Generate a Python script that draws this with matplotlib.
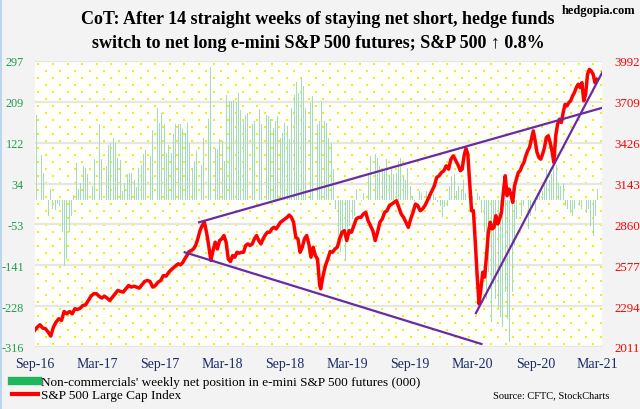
import numpy as np
import pandas as pd
import matplotlib
matplotlib.use('Agg')
import matplotlib.pyplot as plt
from matplotlib.lines import Line2D

plt.rcParams['font.family'] = ['Liberation Serif', 'DejaVu Serif']

# weekly net position of non-commercials, e-mini S&P 500 futures (000), Sep-16 .. Mar-21
net = [182, 93, 95, 58, 43, -35, 22, -21, -22, -10, -14, -70, -142, -127, -70, -35, 9, 79, 22, 35,
       72, 68, 54, 58, 29, 86, 118, 161, 86, 157, 72, 118, 122, 132, 122, 90, 85, 19, 36, 54,
       58, 58, 43, 26, 68, 75, 97, 107, 93, 93, 150, 140, 197, 164, 186, 161, 100, 118, 100, 140,
       161, 161, 161, 152, 143, 164, 122, 68, 83, 104, 172, 75, 132, 168, 172, 285, 122, 111, 108, 129,
       125, 83, 225, 211, 211, 214, 209, 229, 193, 168, 182, 186, 132, 161, 168, 186, 194, 161, 168, 182,
       179, 172, 154, 168, 179, 132, 143, 164, 157, 129, 197, 225, 253, 229, 261, 243, 197, 200, 207, 221,
       214, 161, 168, 211, 168, 164, 132, 122, 65, -21, -99, -113, -92, -131, -92, -56, -42, -35, 22, 8,
       -3, 15, 1, 58, 93, 86, 97, 90, 72, 65, 61, 86, 51, 65, 54, 58, 83, 90, 51, 43,
       68, 29, 8, -6, 8, 19, 15, 54, 19, 11, 15, 11, 6, -6, -14, -38, -17, -14, 29, 51,
       54, 19, 29, 19, 43, 15, 33, -6, 8, 1, 15, 8, -28, -70, -213, -156, -263, -180, -213, -234,
       -252, -273, -199, -256, -305, -199, -99, -42, -35, -35, -14, -28, -63, -35, -67, -24, 15, 19, 19, 43,
       65, 43, 54, 72, 75, 36, 29, 36, -14, -21, -28, -35, -21, -28, -14, -21, -14, -28, -21, -56,
       -78, -35, 22]
net_start, net_end = '2016-09-06', '2021-03-02'

# S&P 500, read in four stretches
spx_a = [2126, 2149, 2165, 2142, 2138, 2115, 2087, 2149, 2184, 2207, 2195, 2257, 2241, 2257, 2241, 2276,
         2271, 2280, 2299, 2303, 2333, 2363, 2380, 2380, 2363, 2350, 2363, 2350, 2333, 2356, 2380, 2403,
         2396, 2391, 2414, 2437, 2426, 2432, 2426, 2419, 2442, 2465, 2472, 2465, 2426, 2437, 2460, 2472,
         2506, 2502, 2529, 2548, 2564, 2580]
spx_b = [2587, 2580, 2594, 2621, 2644, 2672, 2679, 2690, 2714, 2760, 2817, 2852, 2875, 2806, 2714, 2610,
         2679, 2737, 2690, 2748, 2760, 2783, 2737, 2621, 2603, 2644, 2633, 2667, 2661, 2667, 2667, 2714,
         2725, 2714, 2725, 2760, 2783, 2748, 2725, 2760, 2787, 2806, 2806, 2829, 2840, 2829, 2852, 2875,
         2886, 2898, 2909, 2925, 2909, 2875, 2771, 2760, 2667, 2702, 2760, 2783, 2725, 2633, 2702, 2644,
         2621, 2437]
spx_c = [2414, 2506, 2575, 2621, 2672, 2667, 2690, 2702, 2760, 2806, 2817, 2748, 2817, 2806, 2852, 2898,
         2909, 2909, 2932, 2944, 2886, 2852, 2817, 2748, 2806, 2875, 2898, 2944, 2955, 2990, 3001, 3013,
         3024, 2978, 2932, 2909, 2875, 2840, 2898, 2944, 3001, 2990, 2955, 2967, 2990, 3024, 3059, 3094,
         3128, 3186, 3197, 3220, 3232, 3266, 3243, 3312, 3335]
spx_d = [3266, 3232, 3243, 3335, 3386, 3347, 3151, 2955, 2955, 2737, 2506, 2310, 2414, 2529, 2495, 2644,
         2806, 2875, 2829, 2840, 2921, 2863, 2898, 2944, 3082, 3197, 3059, 3105, 3071, 3013, 3128, 3174,
         3220, 3232, 3266, 3289, 3335, 3370, 3393, 3451, 3508, 3439, 3359, 3324, 3312, 3347, 3393, 3462,
         3474, 3428, 3370, 3289, 3474, 3554, 3589, 3566, 3635, 3692, 3681, 3704, 3716, 3750, 3773, 3808,
         3831, 3808, 3842, 3716, 3762, 3900, 3934, 3923, 3900, 3842, 3865]
spx_spans = [('2016-08-31', '2017-10-20'), ('2017-10-24', '2018-12-11'),
             ('2018-12-14', '2020-01-05'), ('2020-01-20', '2021-02-27')]

# trend lines drawn on the S&P chart
trend_upper = (['2017-12-24', '2021-03-12'], [2875, 3666])
trend_lower = (['2017-11-12', '2020-03-27'], [2667, 2032])
trend_steep = (['2020-03-11', '2021-03-15'], [2246, 3914])

left_ticks = ['-316', '-228', '-141', '-53', '34', '122', '209', '297']
right_ticks = ['2011', '2294', '2577', '2860', '3143', '3426', '3709', '3992']

title1 = 'CoT: After 14 straight weeks of staying net short, hedge funds'
title2 = 'switch to net long e-mini S&P 500 futures; S&P 500 \u2191 0.8%'

fig = plt.figure(figsize=(6.4, 4.1), dpi=100, facecolor='#f3f3f3')
ax = fig.add_axes([35/640, 62/410, 567/640, 286/410])
ax.set_facecolor('#fefefb')
for s in ax.spines.values():
    s.set_visible(False)

# yellow dot pattern of the plot area
gx, gy = np.meshgrid(np.arange(0.006, 1, 14.6/567), np.arange(0.012, 1, 7/286))
gx = gx + (np.arange(gy.shape[0])[:, None] % 2) * 7.3/567
ax.scatter(gx.ravel(), gy.ravel(), s=1.0, marker='s', color='#f2ec1e', linewidths=0,
           transform=ax.transAxes, zorder=0.5)

net_dates = pd.date_range(net_start, net_end, periods=len(net))
ax.bar(net_dates, net, width=2.6, color='#a3dcba', linewidth=0, zorder=2)

lt = [float(v) for v in left_ticks]
ax.set_ylim(lt[0], lt[-1])
ax.set_yticks(np.linspace(lt[0], lt[-1], len(lt)))
ax.set_yticklabels(left_ticks)
ax.yaxis.grid(True, color='#e7e7e1', lw=1.6, zorder=1)
ax.set_axisbelow(True)
ax.tick_params(axis='y', length=0, pad=8, labelcolor='#1f9d4f', labelsize=8.8)

xt = pd.date_range('2016-09-01', '2021-03-01', freq='6MS')
ax.set_xticks(xt)
ax.set_xticklabels([d.strftime('%b-%y') for d in xt])
ax.tick_params(axis='x', length=0, pad=7, labelcolor='#1c2a66', labelsize=10)
ax.set_xlim(pd.Timestamp('2016-09-01'), pd.Timestamp('2021-03-14'))

ax2 = ax.twinx()
for s in ax2.spines.values():
    s.set_visible(False)
spx_dates = np.concatenate([pd.date_range(a, b, periods=len(v)).values
                            for v, (a, b) in zip([spx_a, spx_b, spx_c, spx_d], spx_spans)])
spx = spx_a + spx_b + spx_c + spx_d
ax2.plot(spx_dates, spx, color='#ff0000', lw=2.5, solid_joinstyle='round', zorder=3)
for d, v in [trend_upper, trend_lower, trend_steep]:
    ax2.plot(pd.to_datetime(d), v, color='#6a2aa3', lw=1.6, zorder=4)

rt = [float(v) for v in right_ticks]
ax2.set_ylim(rt[0], rt[-1])
ax2.set_yticks(np.linspace(rt[0], rt[-1], len(rt)))
ax2.set_yticklabels(right_ticks)
ax2.tick_params(axis='y', length=0, pad=9, labelcolor='#ff0000', labelsize=9.3)
ax2.set_xlim(pd.Timestamp('2016-09-01'), pd.Timestamp('2021-03-14'))

fig.text(0.497, 1 - 20/410, title1, ha='center', va='center', fontsize=13, fontweight='bold')
fig.text(0.497, 1 - 43/410, title2, ha='center', va='center', fontsize=13, fontweight='bold')
fig.text(0.992, 1 - 11/410, 'hedgopia.com', ha='right', va='center', fontsize=9, fontweight='bold')
fig.text(0.952, 14/410, 'Source: CFTC, StockCharts', ha='right', va='center', fontsize=7.5)

handles = [Line2D([], [], color='#1fb55a', lw=6),
           Line2D([], [], color='#ff0000', lw=3)]
labels = ["Non-commercials' weekly net position in e-mini S&P 500 futures (000)",
          'S&P 500 Large Cap Index']
fig.legend(handles, labels, loc='upper left', bbox_to_anchor=(12/640, 1 - 377/410), frameon=False,
           fontsize=9.5, handlelength=2.0, handletextpad=0.2, labelspacing=0.05, borderpad=0,
           borderaxespad=0)

fig.add_artist(Line2D([0.7/640, 0.7/640], [0, 1], transform=fig.transFigure, color='#bcd6ee', lw=1.5,
                      zorder=0))

fig.savefig('out.png', dpi=100, facecolor=fig.get_facecolor())
